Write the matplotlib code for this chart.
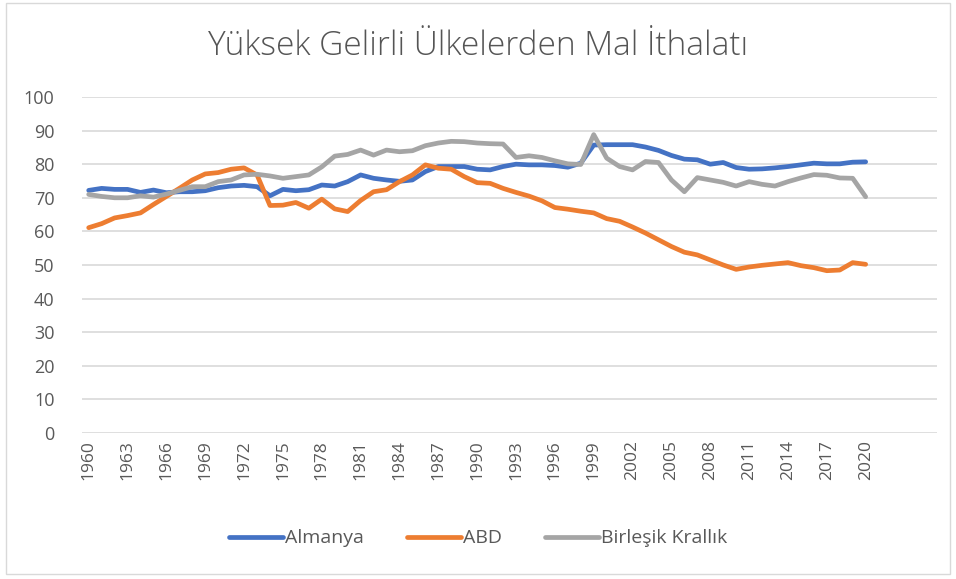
import matplotlib.pyplot as plt
from matplotlib.patches import Rectangle

plt.rcParams['font.family'] = ['Open Sans', 'DejaVu Sans']

years = list(range(1960, 2021))

almanya = [72.2, 72.8, 72.5, 72.5, 71.6, 72.3, 71.5, 71.8, 71.8, 72.1,
           73.0, 73.5, 73.7, 73.3, 70.6, 72.5, 72.1, 72.4, 73.8, 73.5,
           74.8, 76.8, 75.8, 75.3, 74.9, 75.3, 77.8, 79.3, 79.3, 79.3,
           78.5, 78.3, 79.3, 80.0, 79.8, 79.8, 79.6, 79.1, 80.3, 85.7,
           85.8, 85.8, 85.8, 85.1, 84.1, 82.6, 81.5, 81.3, 80.0, 80.5,
           79.0, 78.5, 78.6, 78.9, 79.3, 79.8, 80.3, 80.1, 80.1, 80.6,
           80.7]

abd = [61.1, 62.3, 64.0, 64.7, 65.5, 68.0, 70.4, 72.8, 75.3, 77.1,
       77.5, 78.5, 78.9, 76.8, 67.7, 67.8, 68.6, 66.9, 69.6, 66.7,
       65.9, 69.2, 71.8, 72.4, 74.8, 76.8, 79.8, 78.8, 78.5, 76.3,
       74.5, 74.3, 72.8, 71.6, 70.5, 69.1, 67.1, 66.6, 66.0, 65.5,
       63.8, 63.0, 61.3, 59.5, 57.5, 55.5, 53.8, 53.0, 51.5, 50.0,
       48.7, 49.4, 49.9, 50.3, 50.7, 49.8, 49.2, 48.3, 48.5, 50.7,
       50.2]

birlesik = [71.0, 70.4, 70.0, 70.0, 70.6, 70.2, 71.1, 72.2, 73.3, 73.3,
            74.8, 75.3, 76.8, 77.0, 76.5, 75.8, 76.3, 76.8, 79.2, 82.4,
            82.9, 84.2, 82.7, 84.2, 83.7, 84.0, 85.5, 86.3, 86.8, 86.7,
            86.3, 86.1, 86.0, 82.0, 82.5, 82.0, 81.0, 80.1, 79.9, 88.8,
            81.8, 79.3, 78.3, 80.8, 80.5, 75.3, 71.8, 76.0, 75.3, 74.6,
            73.5, 74.8, 74.0, 73.5, 74.8, 75.9, 76.9, 76.7, 75.9, 75.8,
            70.3]

series = [('Almanya', almanya, '#4472C4'),
          ('ABD', abd, '#ED7D31'),
          ('Birleşik Krallık', birlesik, '#A5A5A5')]

fig = plt.figure(figsize=(9.56, 5.79), dpi=100)
fig.patches.append(Rectangle((0.006, 0.008), 0.988, 0.986, transform=fig.transFigure,
                             fill=False, edgecolor='#d9d9d9', linewidth=1))
ax = fig.add_axes([0.086, 0.2522, 0.894, 0.5803])

for name, vals, color in series:
    ax.plot(years, vals, color=color, linewidth=3.4, label=name,
            solid_capstyle='round', solid_joinstyle='round')

ax.set_xlim(1959.5, 2025.5)
ax.set_ylim(0, 100)
ax.set_yticks(range(0, 101, 10))
ax.set_xticks(range(1960, 2021, 3))
ax.set_xticklabels([str(y) for y in range(1960, 2021, 3)], rotation=90,
                   fontsize=12.5, color='#595959')
ax.tick_params(axis='y', labelsize=13, labelcolor='#595959', length=0, pad=20)
ax.tick_params(axis='x', length=0, pad=5)
ax.grid(axis='y', color='#d9d9d9', linewidth=1.2)
ax.set_axisbelow(True)
for s in ax.spines.values():
    s.set_visible(False)

fig.text(0.5, 0.92, 'Yüksek Gelirli Ülkelerden Mal İthalatı', ha='center', va='center',
         fontsize=24, color='#555555', fontweight='light')

fig.legend(loc='center', bbox_to_anchor=(0.5, 0.07), ncol=3, frameon=False,
           fontsize=14, handlelength=2.8, columnspacing=2.2, handletextpad=0.1,
           labelcolor='#595959')

fig.savefig('out.png', dpi=100)
